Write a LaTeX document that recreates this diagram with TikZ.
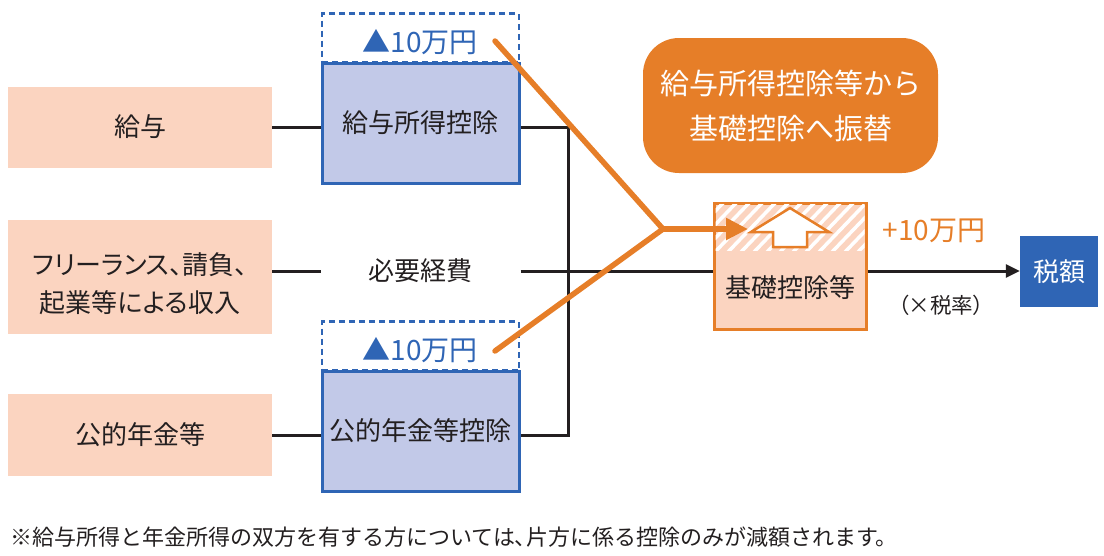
\documentclass[tikz,border=0pt]{standalone}
\usepackage{fontspec}
\setmainfont{Noto Sans CJK JP}
\newfontfamily\paltfont[RawFeature=+palt]{Noto Sans CJK JP}
\usetikzlibrary{arrows.meta}
\definecolor{accent}{RGB}{230,126,40}
\definecolor{mainblue}{RGB}{47,101,181}
\definecolor{peach}{RGB}{251,212,192}
\definecolor{lavender}{RGB}{194,201,232}
\definecolor{ink}{RGB}{35,31,32}

\begin{document}
\begin{tikzpicture}[x=1pt, y=-1pt,
        income/.style={fill=peach, minimum width=264pt, inner sep=0pt, align=center, text=ink, font=\fontsize{26}{38}\selectfont},
        deduct/.style={draw=mainblue, line width=3pt, fill=lavender, minimum width=197pt, minimum height=120pt, inner sep=0pt, text=ink, font=\fontsize{26}{36}\selectfont},
        cutbox/.style={draw=mainblue, line width=2.5pt, dash pattern=on 6pt off 4pt, minimum width=197pt, minimum height=49pt, inner sep=0pt},
        cutlabel/.style={text=mainblue, inner sep=0pt, font=\fontsize{28}{30}\selectfont},
        wire/.style={ink, line width=3pt},
        transfer/.style={accent, line width=5.5pt, line cap=round}
    ]
        \useasboundingbox (0,0) rectangle (1104,555);

        % income sources
        \node[income, minimum height=81pt] (salary) at (140,127) {給与};
        \node[income, minimum height=114pt] (freelance) at (140,277) {};
        \node[text=ink, align=center, inner sep=0pt, font=\paltfont\fontsize{26}{38}\selectfont] (freelancetext) at (140,284) {フリーランス、請負、\\起業等による収入};
        \node[income, minimum height=82pt] (pension) at (140,435) {公的年金等};

        % deductions
        \node[cutbox] (salarycut) at (420.5,38) {};
        \node[cutlabel] (salaryminus) at (420,42) {▲10万円};
        \node[deduct] (salaryded) at (420.5,123) {給与所得控除};
        \node[cutbox] (pensioncut) at (420.5,346) {};
        \node[cutlabel] (pensionminus) at (420,350) {▲10万円};
        \node[deduct] (pensionded) at (420.5,431) {公的年金等控除};
        \node[inner sep=2pt, text=ink, font=\fontsize{26}{30}\selectfont] (expense) at (420,271) {必要経費};

        % basic deduction
        \node[draw=accent, line width=3pt, fill=peach, minimum width=152pt, minimum height=126pt, inner sep=0pt] (base) at (790,266) {};
        \begin{scope}
            \clip (715.5,204.5) rectangle (864.5,250);
            \foreach \x in {650,663,...,880}
                \draw[white, line width=3.5pt] (\x,252) -- (\x+48,202);
        \end{scope}
        \draw[accent, line width=2.5pt, fill=white] (790,208) -- (829,232) -- (807,232) -- (807,247) -- (773,247) -- (773,232) -- (751,232) -- cycle;
        \node[text=ink, font=\fontsize{26}{30}\selectfont] (baselabel) at (790,288) {基礎控除等};
        \node[text=accent, inner sep=0pt, font=\fontsize{28}{30}\selectfont] (plus) at (934,231) {+10万円};
        \node[text=ink, inner sep=0pt, font=\paltfont\fontsize{21.5}{24}\selectfont] (rate) at (941,305) {（×税率）};
        \node[fill=mainblue, text=white, minimum width=78pt, minimum height=71pt, inner sep=0pt, font=\fontsize{26}{30}\selectfont] (tax) at (1059,271.5) {税額};

        % note
        \node[fill=accent, text=white, rounded corners=36pt, minimum width=295pt, minimum height=135pt, align=center, font=\fontsize{29}{45}\selectfont] (shiftnote) at (790.5,105.5) {給与所得控除等から\\基礎控除へ振替};

        % connectors
        \coordinate (bus) at (568,0);
        \draw[wire] (salary.east) -- (salary.east -| salaryded.west);
        \draw[wire] (pension.east) -- (pension.east -| pensionded.west);
        \draw[wire] (salaryded.east |- salary.east) -| (bus |- pension.east) -- (pensionded.east |- pension.east);
        \draw[wire] (freelance.east |- expense) -- (expense -| salaryded.west);
        \draw[wire] (expense -| salaryded.east) -- (base.west |- expense);
        \draw[wire, -{Triangle[length=14pt, width=13pt]}] (base.east |- expense) -- (tax.west |- expense);

        % transfer
        \coordinate (salarytip) at (495,41);
        \coordinate (pensiontip) at (495,351);
        \coordinate (merge) at (663,229);
        \coordinate (basetip) at (748,229);
        \draw[transfer, line join=miter] (salarytip) -- (merge) -- (pensiontip);
        \draw[transfer, -{Triangle[length=22pt, width=21pt]}] (merge) -- (basetip);

        \node[anchor=west, text=ink, inner sep=0pt, font=\fontsize{22}{24}\selectfont] (footnote) at (10,537) {※給与所得と年金所得の双方を有する方については{\paltfont 、}片方に係る控除のみが減額されます。};
    \end{tikzpicture}
\end{document}
